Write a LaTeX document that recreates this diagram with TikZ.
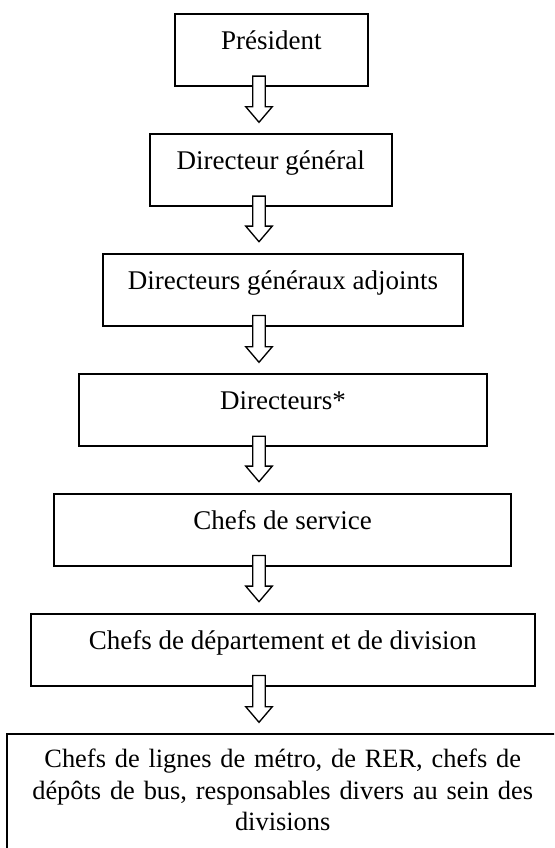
\documentclass[tikz,border=0pt]{standalone}
\usepackage{fontspec}
\setmainfont{Liberation Serif}
\usetikzlibrary{calc}

\tikzset{
  orgbox/.style={draw, line width=1.4pt, inner sep=0pt, anchor=north,
    text height=26.6pt, text depth=27.4pt,
    font=\fontsize{20.25}{23.3}\selectfont},
  boxw/.style={minimum width=#1*0.75pt},
  blockarr/.style={draw, fill=white, line width=1pt, line join=miter},
}
% hollow block arrow from box #1 down to box #2
\newcommand{\hollowdown}[2]{%
  \coordinate (ht) at ($(ax |- #1.south)+(0,-11)$);
  \coordinate (hb) at ($(ax |- #2.north)+(0,-11)$);
  \draw[blockarr] ($(ht)+(-6.3,0)$) -- ($(ht)+(6.3,0)$) -- ($(hb)+(6.3,-15.6)$)
    -- ($(hb)+(13.3,-15.6)$) -- (hb) -- ($(hb)+(-13.3,-15.6)$)
    -- ($(hb)+(-6.3,-15.6)$) -- cycle;
}

\begin{document}
\begin{tikzpicture}[x=0.75pt,y=0.75pt,yscale=-1,xscale=1]
\useasboundingbox (0,0) rectangle (554,848);
\clip (0,0) rectangle (554,848);
\coordinate (ax) at (259,0);

% Text Node
\node[orgbox, boxw=192.7] (pres) at (271.3,13.3) {Président};
% Text Node
\node[orgbox, boxw=241.7] (dg) at (270.8,133.3) {Directeur général};
% Text Node
\node[orgbox, boxw=360.6] (dga) at (283,252.7) {Directeurs généraux adjoints};
% Text Node
\node[orgbox, boxw=408.6] (dirs) at (283,373.3) {Directeurs*};
% Text Node
\node[orgbox, boxw=504.3] (dept) at (282.8,612.7) {Chefs de département et de division};
% Text Node
\node[orgbox, boxw=456.7] (chefs) at (282.7,492.7) {Chefs de service};
% Text Node
\node[orgbox, boxw=552, text width=540*0.75pt, align=center,
  font=\fontsize{19.8}{23.3}\selectfont,
  text height=25.3pt, text depth=97.5pt] (resp) at (282.7,733.3)
  {Chefs de lignes de métro, de RER, chefs de\\
   dépôts de bus, responsables divers au sein des\\
   divisions};

%Block Arrows
\hollowdown{pres}{dg}
\hollowdown{dg}{dga}
\hollowdown{dga}{dirs}
\hollowdown{dirs}{chefs}
\hollowdown{chefs}{dept}
\hollowdown{dept}{resp}

\end{tikzpicture}
\end{document}
